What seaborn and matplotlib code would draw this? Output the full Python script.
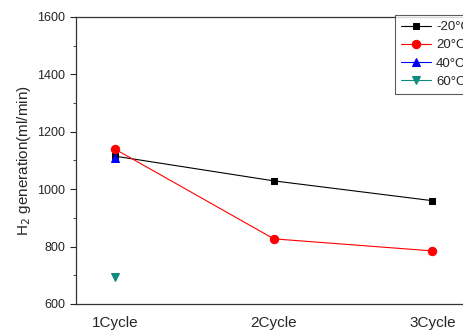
import matplotlib
matplotlib.use("Agg")
import matplotlib.pyplot as plt
import seaborn as sns
import pandas as pd
from matplotlib.ticker import MultipleLocator

cycles = ["1Cycle", "2Cycle", "3Cycle"]
series_names = ["-20\u00b0C", "20\u00b0C", "40\u00b0C", "60\u00b0C"]
m20 = [1115, 1029, 960]
p20 = [1139, 827, 785]
p40 = [1110]
p60 = [695]

sns.set_style("ticks")
plt.rcParams['font.family'] = ['Liberation Sans', 'DejaVu Sans']

fig = plt.figure(figsize=(4.64, 3.30), dpi=100)
ax = fig.add_axes([75.7/464, 1-304/330, (472-75.7)/464, (304-17)/330])

styles = [
    (m20, "black", "s", 5),
    (p20, "red", "o", 6),
    (p40, "blue", "^", 6),
    (p60, "#0f8a80", "v", 6),
]
for name, (vals, col, mk, ms) in zip(series_names, styles):
    df = pd.DataFrame({"x": list(range(1, len(vals) + 1)), "y": vals})
    sns.lineplot(data=df, x="x", y="y", ax=ax, color=col, marker=mk,
                 markersize=ms, markeredgecolor=col, linewidth=0.8, label=name)

ax.set_xlim(0.75, 3.25)
ax.set_ylim(600, 1600)
ax.set_xticks([1, 2, 3])
ax.set_xticklabels(cycles, fontsize=11)
ax.tick_params(axis='x', length=0, pad=9)
ax.yaxis.set_major_locator(MultipleLocator(200))
ax.yaxis.set_minor_locator(MultipleLocator(100))
ax.tick_params(axis='y', which='major', length=4, labelsize=9, direction='out')
ax.tick_params(axis='y', which='minor', length=2, direction='out')
ax.set_xlabel("")
ax.set_ylabel("H$_2$ generation(ml/min)", fontsize=11, labelpad=3)
for s in ax.spines.values():
    s.set_linewidth(0.9)
    s.set_color("#333333")

leg = ax.legend(loc='upper left', bbox_to_anchor=(395/464, 1-15/330),
                bbox_transform=fig.transFigure, borderaxespad=0, fontsize=9.5,
                frameon=True, fancybox=False, handlelength=2.3,
                labelspacing=0.45, borderpad=0.45, handletextpad=0.35)
leg.get_frame().set_edgecolor("#333333")
leg.get_frame().set_linewidth(0.8)

fig.savefig("out.png", dpi=100)
